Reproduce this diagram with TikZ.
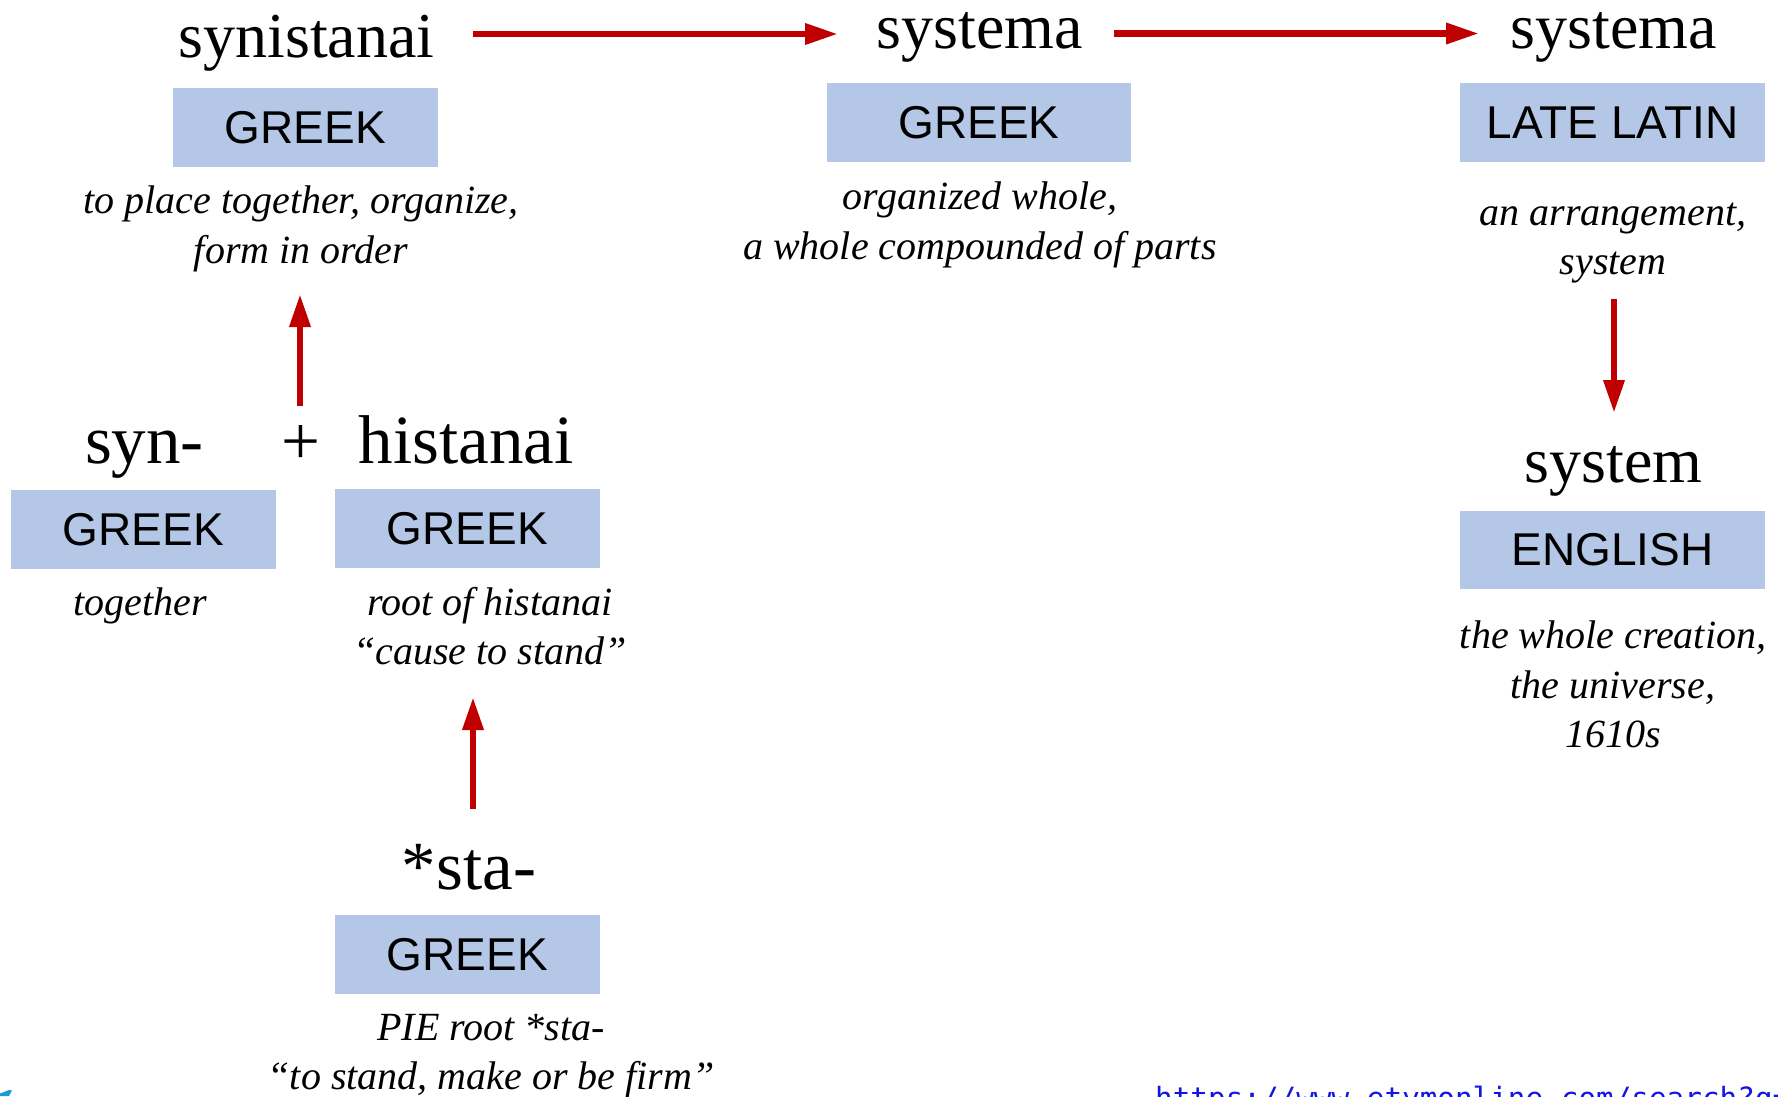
\documentclass[tikz,border=0pt]{standalone}
\usepackage{fontspec}
\setmainfont{Liberation Serif}
\newfontfamily\boxfont{Liberation Sans}
\newfontfamily\urlfont{DejaVu Sans Mono}
\usetikzlibrary{arrows.meta}
\definecolor{boxblue}{HTML}{B4C7E7}
\definecolor{arrred}{HTML}{C00000}
\definecolor{logoblue}{HTML}{1B9AD6}
\definecolor{urlblue}{HTML}{1414E6}
\begin{document}
\begin{tikzpicture}[x=1pt,y=-1pt,
  word/.style={font=\fontsize{64}{70}\selectfont, anchor=base, inner sep=0pt},
  bigword/.style={font=\fontsize{69}{75}\selectfont, anchor=base, inner sep=0pt},
  lang/.style={fill=boxblue, minimum height=79pt, inner sep=0pt,
               font=\boxfont\fontsize{46}{50}\selectfont},
  desc/.style={font=\itshape\fontsize{40}{49.5}\selectfont, align=center,
               anchor=base, inner sep=0pt},
  arr/.style={draw=arrred, line width=6.5pt,
              -{Triangle[length=33pt,width=20pt]}, arrred}]
\useasboundingbox (0,0) rectangle (1778,1096);
\clip (0,0) rectangle (1778,1096);

% top row (desc nodes are placed at the baseline of their last line)
\node[word] (w1) at (306.5,57) {synistanai};
\node[lang, minimum width=265pt] (b1) at (305.5,127.5) {GREEK};
\node[desc] (d1) at (301,263) {to place together, organize,\\form in order};

\node[word] (w2) at (980,48) {systema};
\node[lang, minimum width=304pt] (b2) at (979,122.5) {GREEK};
\node[desc] (d2) at (980,259) {organized whole,\\a whole compounded of parts};

\node[word] (w3) at (1613.5,48) {systema};
\node[lang, minimum width=305pt] (b3) at (1612.5,122.5) {LATE LATIN};
\node[desc] (d3) at (1613,274.5) {an arrangement,\\system};

% middle row left
\node[bigword] (w4) at (144.5,463) {syn-};
\node[lang, minimum width=265pt] (b4) at (143.5,529.5) {GREEK};
\node[desc] (d4) at (140.5,615.5) {together};

\node[bigword] (plus) at (301,464) {+};

\node[bigword] (w5) at (466,463) {histanai};
\node[lang, minimum width=265pt] (b5) at (467.5,528.5) {GREEK};
\node[desc] (d5) at (490,664.5) {root of histanai\\“cause to stand”};

% bottom
\node[bigword] (w6) at (469,889) {*sta-};
\node[lang, minimum width=265pt] (b6) at (467.5,954.5) {GREEK};
\node[desc] (d6) at (491,1089.5) {PIE root *sta-\\“to stand, make or be firm”};

% right lower
\node[word] (w7) at (1613.5,482) {system};
\node[lang, minimum width=305pt, minimum height=78pt] (b7) at (1612.5,550) {ENGLISH};
\node[desc] (d7) at (1613,747.5) {the whole creation,\\the universe,\\1610s};

% arrow end coordinates
\coordinate (a1s) at (473,34);
\coordinate (a1e) at (838,34);
\coordinate (a2s) at (1114,33.5);
\coordinate (a2e) at (1479,33.5);
\coordinate (a3s) at (300,406);
\coordinate (a3e) at (300,294);
\coordinate (a4s) at (473,809);
\coordinate (a4e) at (473,697);
\coordinate (a5s) at (1614,299);
\coordinate (a5e) at (1614,413);

\draw[arr] (a1s) -- (a1e);
\draw[arr] (a2s) -- (a2e);
\draw[arr] (a3s) -- (a3e);
\draw[arr] (a4s) -- (a4e);
\draw[arr] (a5s) -- (a5e);

% source link (cut off at the bottom edge)
\node[anchor=base west, inner sep=0pt, text=urlblue,
      font=\urlfont\fontsize{29.3}{32}\selectfont] (url) at (1155,1108)
      {https://www.etymonline.com/search?q=system};

% fragment of a logo at the bottom-left corner
\fill[logoblue] (0,1096) -- (0,1093.5) -- (9,1090) -- (12,1090.5) -- (9,1096) -- cycle;
\end{tikzpicture}
\end{document}
